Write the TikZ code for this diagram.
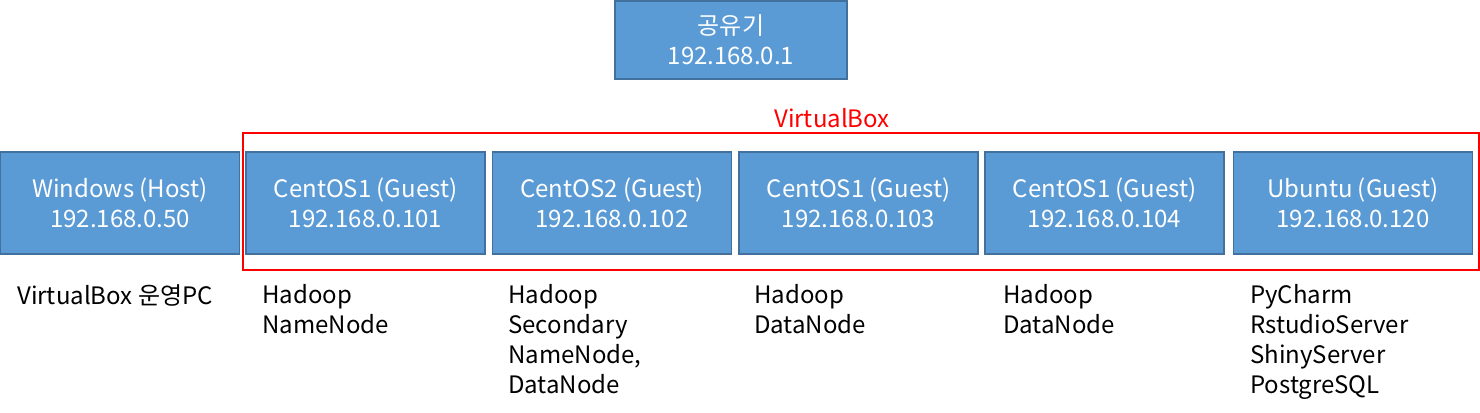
\documentclass[tikz,border=0pt]{standalone}
\usepackage{fontspec}
\setmainfont{Noto Sans CJK KR}
\definecolor{boxfill}{HTML}{5B9BD5}
\definecolor{boxline}{HTML}{41719C}
\definecolor{vbred}{HTML}{FF0000}
\begin{document}
\begin{tikzpicture}[x=0.75pt,y=-0.75pt,
  box/.style={draw=boxline, line width=1.5pt*0.75, fill=boxfill, text=white, align=center,
    minimum width=239*0.75pt, minimum height=102*0.75pt, inner sep=0pt,
    font=\fontsize{18}{22.5}\selectfont},
  note/.style={anchor=north west, align=left, inner sep=0pt, text=black,
    font=\fontsize{18}{22.5}\selectfont}]
\useasboundingbox (0,0) rectangle (1480,413);
\node[box, minimum width=232*0.75pt, minimum height=78*0.75pt] (router) at (731,40) {공유기\\192.168.0.1};
\node[draw=vbred, line width=1.5pt, minimum width=1236*0.75pt, minimum height=137*0.75pt, inner sep=0pt] (vbox) at (861,201.5) {};
\node[anchor=base, text=vbred, inner sep=0pt, font=\fontsize{18}{22.5}\selectfont] (vblabel) at (832,128) {VirtualBox};
\node[box] (win) at (120,203) {Windows (Host)\\192.168.0.50};
\node[box] (c1) at (365.5,203) {CentOS1 (Guest)\\192.168.0.101};
\node[box] (c2) at (612,203) {CentOS2 (Guest)\\192.168.0.102};
\node[box] (c3) at (858.5,203) {CentOS1 (Guest)\\192.168.0.103};
\node[box] (c4) at (1104.5,203) {CentOS1 (Guest)\\192.168.0.104};
\node[box] (ub) at (1353,203) {Ubuntu (Guest)\\192.168.0.120};
\node[note] (nwin) at (17,284) {VirtualBox 운영PC};
\node[note] (nc1) at (262,284) {Hadoop\\NameNode};
\node[note] (nc2) at (508,284) {Hadoop\\Secondary\\NameNode,\\DataNode};
\node[note] (nc3) at (754,284) {Hadoop\\DataNode};
\node[note] (nc4) at (1003,284) {Hadoop\\DataNode};
\node[note] (nub) at (1250,284) {PyCharm\\RstudioServer\\ShinyServer\\PostgreSQL};
\end{tikzpicture}
\end{document}
